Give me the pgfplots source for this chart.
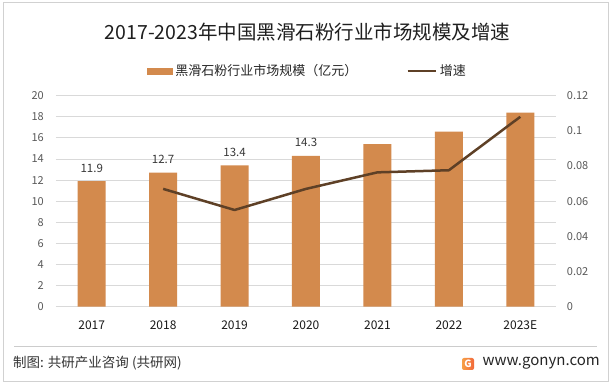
\documentclass[border=0pt]{standalone}
\usepackage{fontspec}
\setmainfont{Noto Sans CJK SC}
\usepackage{pgfplots}
\pgfplotsset{compat=1.18}
\definecolor{barc}{HTML}{D38A4D}
\definecolor{linec}{HTML}{5E4026}
\definecolor{gridc}{HTML}{D9D9D9}
\definecolor{tickc}{HTML}{595959}
\definecolor{logoA}{HTML}{F7A046}
\definecolor{logoB}{HTML}{F2683A}
\begin{document}
\begin{tikzpicture}[x=1pt,y=1pt]
\fill[white] (0,0) rectangle (611,385);
\useasboundingbox (0,0) rectangle (611,385);
\draw[black!18, line width=0.9pt] (3,3.5) rectangle (608,383);
\node[font=\fontsize{19.5}{22}\selectfont, text=black!88] at (307.5,353.3) {2017-2023年中国黑滑石粉行业市场规模及增速};

\begin{axis}[
 at={(56pt,78.3pt)}, anchor=south west,
 scale only axis, width=500pt, height=211pt,
 xmin=-0.5, xmax=6.5, ymin=0, ymax=20,
 ytick={0,2,4,6,8,10,12,14,16,18,20},
 xtick={0,1,2,3,4,5,6},
 xticklabels={2017,2018,2019,2020,2021,2022,2023E},
 axis line style={draw=none}, major tick length=0pt,
 ymajorgrids, grid style={gridc, line width=0.8pt},
 /pgf/number format/assume math mode=true,
 yticklabel style={font=\fontsize{11}{13}\selectfont, text=tickc, anchor=east, inner sep=0pt, xshift=-12pt},
 xticklabel style={font=\fontsize{12}{14}\selectfont, text=black!90, anchor=base, inner sep=0pt, yshift=-23pt},
 ybar, bar width=28pt, bar shift=0pt,
 clip=false,
]
\addplot[fill=barc, draw=none] coordinates {(0,11.9) (1,12.7) (2,13.4) (3,14.3) (4,15.4) (5,16.6) (6,18.4)};
\addplot[draw=none, fill=none, forget plot, point meta=y,
  nodes near coords,
  nodes near coords style={font=\fontsize{11.5}{13}\selectfont, text=black!78, anchor=south, inner sep=0pt, yshift=8.5pt}]
  coordinates {(0,11.9) (1,12.7) (2,13.4) (3,14.3)};
\end{axis}

\begin{axis}[
 at={(56pt,78.3pt)}, anchor=south west,
 scale only axis, width=500pt, height=211pt,
 xmin=-0.5, xmax=6.5, ymin=0, ymax=0.12,
 hide x axis, axis y line*=right,
 axis line style={draw=none}, major tick length=0pt,
 ytick={0,0.02,0.04,0.06,0.08,0.1,0.12},
 yticklabels={0,0.02,0.04,0.06,0.08,0.1,0.12},
 scaled y ticks=false,
 yticklabel style={font=\fontsize{11}{13}\selectfont, text=tickc, anchor=west, inner sep=0pt, xshift=10.7pt},
 clip=false,
 legend columns=2,
 legend style={at={(0.501,1.117)}, anchor=center, draw=none, fill=none,
   font=\fontsize{13}{15}\selectfont, text=black!85,
   nodes={inner sep=0pt},
   /tikz/every odd column/.append style={column sep=3pt},
   /tikz/every even column/.append style={column sep=49pt}},
 legend cell align=left,
]
\addlegendimage{legend image code/.code={\fill[barc] (0pt,-3.3pt) rectangle (25pt,3.3pt);}}
\addlegendentry{黑滑石粉行业市场规模（亿元）}
\addplot[linec, line width=2.5pt, line join=round,
  legend image code/.code={\draw[linec, line width=2.5pt] (0pt,0pt) -- (28pt,0pt);}]
  coordinates {(1,0.067) (2,0.055) (3,0.067) (4,0.0764) (5,0.0776) (6,0.108)};
\addlegendentry{增速}
\end{axis}

\draw[black!20, line width=0.8pt] (14,38.3) -- (597,38.3);
\node[anchor=west, font=\fontsize{13.5}{15}\selectfont, text=black!80, inner sep=0pt] at (13,22) {制图: 共研产业咨询 (共研网)};
\node[anchor=east, font=\fontsize{15}{17}\selectfont, text=black!85, inner sep=0pt] at (600,22) {www.gonyn.com};
\shade[left color=logoA, right color=logoB, rounded corners=2pt] (462,15) rectangle (474,27);
\node[font=\bfseries\fontsize{10}{10}\selectfont, text=white, inner sep=0pt] at (468,21) {G};
\end{tikzpicture}
\end{document}
